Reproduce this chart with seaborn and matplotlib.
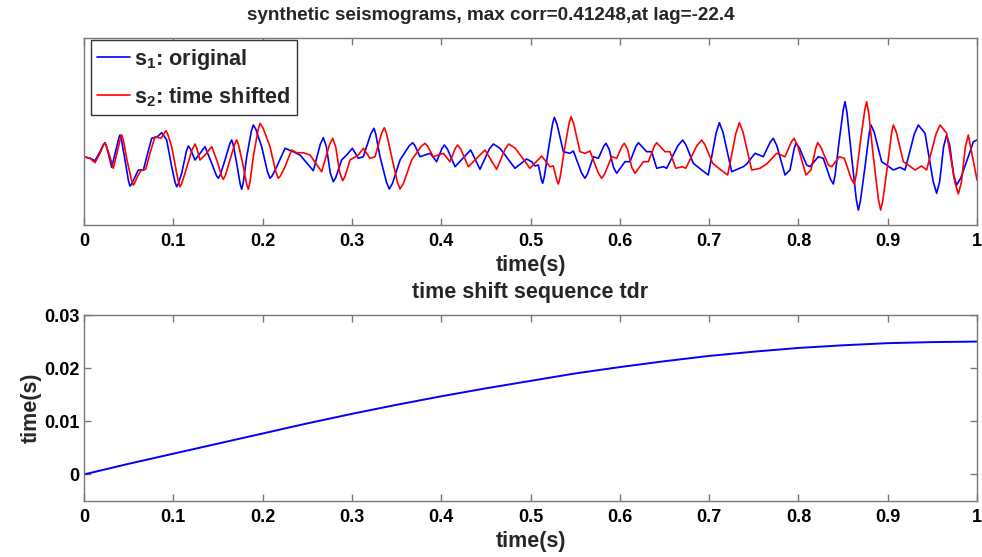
import numpy as np
import pandas as pd
import matplotlib
matplotlib.use("Agg")
import matplotlib.pyplot as plt
import seaborn as sns

# ---------------- data ----------------
# s1 (original): main turning points
t_s1 = [0.0, 0.0067, 0.0123, 0.0179, 0.0235, 0.0272, 0.031, 0.0358, 0.0403, 0.0459,
        0.0515, 0.0564, 0.0608, 0.0665, 0.0713, 0.0758, 0.0814, 0.087, 0.0926, 0.0982,
        0.1038, 0.1094, 0.1168, 0.1243, 0.1299, 0.1355, 0.143, 0.1504, 0.1579, 0.1654,
        0.171, 0.1766, 0.1822, 0.1896, 0.199, 0.2083, 0.2158, 0.2251, 0.2344, 0.2419,
        0.2568, 0.268, 0.2792, 0.2885, 0.2941, 0.3005, 0.3072, 0.3128, 0.3247, 0.3315,
        0.3419, 0.3539, 0.368, 0.3763, 0.3875, 0.3949, 0.4035, 0.4155, 0.433, 0.4434,
        0.4584, 0.4658, 0.4826, 0.4957, 0.5013, 0.505, 0.5088, 0.5136, 0.52, 0.5267,
        0.5368, 0.5442, 0.548, 0.561, 0.5704, 0.576, 0.5845, 0.5965, 0.6058, 0.6114,
        0.6208, 0.6301, 0.6357, 0.6413, 0.6488, 0.6525, 0.6704, 0.6823, 0.6917, 0.6991,
        0.7115, 0.7253, 0.7383, 0.7421, 0.7514, 0.7607, 0.7719, 0.785, 0.7906, 0.7973,
        0.8093, 0.813, 0.8223, 0.8279, 0.8391, 0.8458, 0.8522, 0.8596, 0.8671, 0.8746,
        0.8813, 0.8932, 0.8988, 0.9063, 0.9138, 0.9194, 0.9343, 0.9418, 0.9548, 0.966,
        0.9772, 0.9922, 0.9959, 1.0]
s1 = [1.3, -0.3, -2.7, 6.3, 15.3, 4.7, -9.3, 8, 23, -2,
      -28, -20.3, -12, -12, 4.7, 19.7, 20.7, 25.3, 18, -8.7,
      -28.7, -15.3, 12, -2, 4.7, 11.3, -5.3, -20.3, -2, 18,
      -5.3, -31.3, 1.3, 33, 11.3, -20.3, -8.7, 9.7, 6.3, 3,
      -12.7, 20.3, -23.7, -2, 3, 9.7, -0.3, 1.3, 29.7, 1.3,
      -31, -2, 15.3, 1.3, 4.7, -3.7, 13, -8.7, 8, -11.3,
      14, 9.7, -10.3, -1, -3.7, -8, -7, -25.3, 8, 40.7,
      6.3, 4.7, 7, -20.3, 1.3, -0.3, 14.7, -15.3, -3.7, -3.7,
      15.3, 6.3, 6.3, -10.3, -8.7, -10.3, 18, -5.3, -12, -17,
      35.3, -13.7, -8.7, -6, 4.7, 1.3, 19.7, -17, -12, 14.7,
      -7, -8.7, 1.3, -0.3, -26, 18, 56.3, 1.3, -52, -8.7,
      33, -3.7, -7, -12, -9.3, -12, 33, 24.7, -35.3, 23,
      -27, 6.3, 16.3, 18]
# s1: points on the rounded flanks of the larger swings
t_s1_flank = [0.0218, 0.0246, 0.039, 0.042, 0.0498, 0.053, 0.1021, 0.1055, 0.1146, 0.1191,
              0.1482, 0.1527, 0.1632, 0.1671, 0.1749, 0.1783, 0.1874, 0.1924, 0.2055, 0.2106,
              0.2646, 0.2714, 0.2758, 0.282, 0.3211, 0.3267, 0.3388, 0.3455, 0.3638, 0.3705,
              0.4009, 0.4071, 0.4539, 0.5122, 0.5155, 0.5247, 0.5297, 0.5571, 0.5638, 0.582,
              0.5881, 0.5929, 0.618, 0.665, 0.674, 0.7078, 0.7156, 0.7685, 0.7758, 0.7953,
              0.8009, 0.8357, 0.8411, 0.8503, 0.8544, 0.8648, 0.8694, 0.8793, 0.8849, 0.9298,
              0.9509, 0.9582, 0.9626, 0.9694, 0.9738, 0.9817]
s1_flank = [13.5, 13.2, 20, 18, -22.8, -26.5, -24.7, -26, 6.5, 9.2,
            -17.3, -16.6, 14, 13.3, -26.1, -24.8, 26.7, 28.7, -14, -18,
            13.7, 11.5, -14.9, -19.4, 24, 24, -24.5, -25.2, 11.8, 12.5,
            9.7, 8.7, 9, -21.6, -18.6, 34.2, 33.8, -14.8, -16, 11.7,
            8.7, -9.3, 11.5, 12.3, 13.3, 24.8, 25.5, 16, 12.4, 9.4,
            10.4, -20.9, -17.2, 48.6, 45.3, -41.3, -43.3, 24.7, 25.7, 24,
            -23.3, -23.6, 11.3, 13, -17, -20.3]

# s2 (time shifted): main turning points
t_s2 = [0.0, 0.0067, 0.0123, 0.0179, 0.0235, 0.0284, 0.0328, 0.0377, 0.0422, 0.0485,
        0.0552, 0.0597, 0.0638, 0.0691, 0.0739, 0.0795, 0.0862, 0.0918, 0.0982, 0.1038,
        0.1075, 0.1131, 0.1243, 0.1299, 0.1355, 0.143, 0.1493, 0.156, 0.1635, 0.171,
        0.1777, 0.184, 0.1896, 0.1971, 0.2083, 0.2176, 0.2251, 0.2325, 0.2382, 0.2456,
        0.2531, 0.2661, 0.2785, 0.2897, 0.2979, 0.3072, 0.3128, 0.3203, 0.3259, 0.3363,
        0.3445, 0.3539, 0.3669, 0.3819, 0.3912, 0.4024, 0.4098, 0.4184, 0.4304, 0.449,
        0.4621, 0.4756, 0.483, 0.4994, 0.5125, 0.5218, 0.5256, 0.5312, 0.5379, 0.5454,
        0.5554, 0.561, 0.5666, 0.5797, 0.5909, 0.5965, 0.6051, 0.617, 0.6264, 0.632,
        0.6413, 0.6506, 0.6562, 0.6626, 0.67, 0.6738, 0.6917, 0.704, 0.7133, 0.7208,
        0.7339, 0.7477, 0.757, 0.7645, 0.7757, 0.785, 0.7951, 0.8085, 0.8141, 0.8216,
        0.8335, 0.8373, 0.8458, 0.8514, 0.8626, 0.8697, 0.8764, 0.8839, 0.8921, 0.8996,
        0.9063, 0.9175, 0.9231, 0.9306, 0.938, 0.9436, 0.9586, 0.966, 0.9791, 0.9903,
        1.0]
s2 = [1.3, -0.3, -4.7, 4.7, 14.7, 3, -10.3, 8, 23, -3.7,
      -27, -18.7, -12.7, -11.3, 4.7, 21.3, 19.7, 27.3, 11.3, -15.3,
      -28.7, -15.3, 14, -2, 3, 11.3, -3.7, -21.3, -2, 18,
      -5.3, -31.3, 1.3, 34.7, 11.3, -20.3, -8.7, 8, 5.3, 5.3,
      3, -13.7, 19.7, -22.7, -2, 3, 9.7, -0.3, 1.3, 30.3,
      1.3, -31, -2, 14.7, 1.3, 4.7, -3.7, 13, -8.7, 8,
      -11.3, 14, 9.7, -10.3, 2, -8.7, -8, -26, 8, 41.3,
      6.3, 4.7, 7, -20.3, 1.3, -0.3, 14.7, -15.3, -3.7, -3.7,
      15.3, 6.3, 6.3, -10.3, -8.7, -10.3, 18, -5.3, -12, -17,
      35.3, -12, -10.3, -6, 4.7, 1.3, 19.7, -17, -12, 15.3,
      -7, -8.7, 1.3, -0.3, -26, 18, 56.3, 1.3, -52, -8.7,
      33, -3.7, -7, -12, -8, -12, 33, 24.7, -36, 23,
      -22]
# s2: points on the rounded flanks of the larger swings
t_s2_flank = [0.0218, 0.025, 0.0409, 0.0441, 0.0532, 0.0566, 0.0937, 0.1064, 0.1092, 0.1209,
              0.126, 0.154, 0.1583, 0.1688, 0.173, 0.1821, 0.1857, 0.1949, 0.2005, 0.2148,
              0.2199, 0.2748, 0.2819, 0.2863, 0.2922, 0.3332, 0.3388, 0.3511, 0.3578, 0.3774,
              0.3847, 0.4158, 0.422, 0.4716, 0.5295, 0.5332, 0.5432, 0.5484, 0.5758, 0.583,
              0.6025, 0.6087, 0.6134, 0.6385, 0.6863, 0.6954, 0.73, 0.738, 0.7921, 0.7991,
              0.8194, 0.8252, 0.8592, 0.8647, 0.8744, 0.8787, 0.8896, 0.8944, 0.9043, 0.9097,
              0.9541, 0.9752, 0.9825, 0.987]
s2_flank = [13, 12, 20, 17.7, -22.3, -25.3, 24.1, -26, -26, 8,
            10.8, -17.8, -17.4, 14, 13.3, -26.1, -24.8, 28, 30, -14,
            -18, 13, 11, -14.2, -18.6, 24.5, 24.5, -24.5, -25.2, 11.4,
            12, 9.7, 8.7, 9, -22.4, -19.2, 34.6, 34.3, -14.8, -16,
            11.7, 8.7, -9.3, 11.5, 12.3, 13.3, 24.8, 25.8, 16, 12.4,
            9.8, 10.8, -20.9, -17.2, 48.6, 45.3, -41.3, -43.3, 24.7, 25.7,
            24, -24, -24.3, 11.2]

# time shift sequence
t_tdr = [0.0, 0.05, 0.1, 0.15, 0.2, 0.25, 0.3, 0.35, 0.4, 0.45, 0.5,
         0.55, 0.6, 0.65, 0.7, 0.75, 0.8, 0.85, 0.9, 0.95, 1.0]
tdr = [0.0, 0.0020, 0.0039, 0.0058, 0.0077, 0.0096, 0.0114, 0.0131, 0.0147, 0.0162, 0.0176,
       0.0190, 0.0202, 0.0213, 0.0223, 0.0231, 0.0238, 0.0243, 0.0247, 0.0249, 0.0250]

xticks = [0, 0.1, 0.2, 0.3, 0.4, 0.5, 0.6, 0.7, 0.8, 0.9, 1]
xticklabels = ["0", "0.1", "0.2", "0.3", "0.4", "0.5", "0.6", "0.7", "0.8", "0.9", "1"]
yticks_b = [0, 0.01, 0.02, 0.03]
yticklabels_b = ["0", "0.01", "0.02", "0.03"]

title_top = "synthetic seismograms, max corr=0.41248,at lag=-22.4"
title_bot = "time shift sequence tdr"
label_s1 = "$s_1$: original"
label_s2 = "$s_2$: time shifted"

# ---------------- style ----------------
sns.set_theme(style="white")
plt.rcParams["font.family"] = ["Liberation Sans", "DejaVu Sans"]
plt.rcParams["font.weight"] = "bold"
plt.rcParams["mathtext.fontset"] = "custom"
plt.rcParams["mathtext.rm"] = "Liberation Sans:bold"
plt.rcParams["mathtext.it"] = "Liberation Sans:bold"
plt.rcParams["mathtext.bf"] = "Liberation Sans:bold"
plt.rcParams["mathtext.default"] = "rm"

spine_c = "#777777"
FS_TICK = 13
FS_LAB = 15.5

fig = plt.figure(figsize=(9.82, 5.57), dpi=100)
ax1 = fig.add_axes([84 / 982, 1 - 225 / 557, (977 - 84) / 982, (225 - 38) / 557])
ax2 = fig.add_axes([84 / 982, 1 - 501 / 557, (977 - 84) / 982, (501 - 315) / 557])

df1 = pd.DataFrame({"t": t_s1 + t_s1_flank, "v": s1 + s1_flank}).sort_values("t")
df2 = pd.DataFrame({"t": t_s2 + t_s2_flank, "v": s2 + s2_flank}).sort_values("t")
dft = pd.DataFrame({"t": t_tdr, "v": tdr})

sns.lineplot(data=df1, x="t", y="v", ax=ax1, color="#0000ff", linewidth=1.2,
             label=label_s1, estimator=None)
sns.lineplot(data=df2, x="t", y="v", ax=ax1, color="#ff0000", linewidth=1.2,
             label=label_s2, estimator=None)
sns.lineplot(data=dft, x="t", y="v", ax=ax2, color="#0000ff", linewidth=1.4,
             estimator=None)

for ax in (ax1, ax2):
    ax.set_xlim(0, 1)
    ax.set_xticks(xticks)
    ax.set_xticklabels(xticklabels, fontsize=FS_TICK, fontweight="bold")
    for s in ax.spines.values():
        s.set_visible(True)
        s.set_color(spine_c)
        s.set_linewidth(1.0)
    ax.tick_params(axis="both", direction="in", length=5, width=1.0, color=spine_c,
                   top=True, right=True, bottom=True, left=True, labelcolor="black",
                   pad=6)

ax1.set_xlabel("time(s)", fontsize=FS_LAB, fontweight="bold", labelpad=3)
ax2.set_xlabel("time(s)", fontsize=FS_LAB, fontweight="bold", labelpad=3)

ax1.set_ylim(-67, 120)
ax1.set_yticks([])
ax1.set_ylabel("")
fig.text(0.5, 1 - 15 / 557, title_top, fontsize=13.6, fontweight="bold",
         ha="center", va="center")

ax2.set_ylim(-0.005, 0.03)
ax2.set_yticks(yticks_b)
ax2.set_yticklabels(yticklabels_b, fontsize=FS_TICK, fontweight="bold")
ax2.tick_params(axis="y", pad=3)
ax2.set_ylabel("time(s)", fontsize=FS_LAB, fontweight="bold", labelpad=2)
ax2.set_title(title_bot, fontsize=FS_LAB, fontweight="bold", pad=12)

leg = ax1.legend(loc="upper left", bbox_to_anchor=(6.7 / 893, 1 - 2 / 187),
                 frameon=True, fancybox=False, framealpha=1, edgecolor="#333333",
                 fontsize=15.6, handlelength=1.5, handletextpad=0.2,
                 borderpad=0.3, labelspacing=0.62, borderaxespad=0)
leg.get_frame().set_linewidth(1.0)
for txt in leg.get_texts():
    txt.set_fontweight("bold")

fig.savefig("out.png", dpi=100, facecolor="white")
